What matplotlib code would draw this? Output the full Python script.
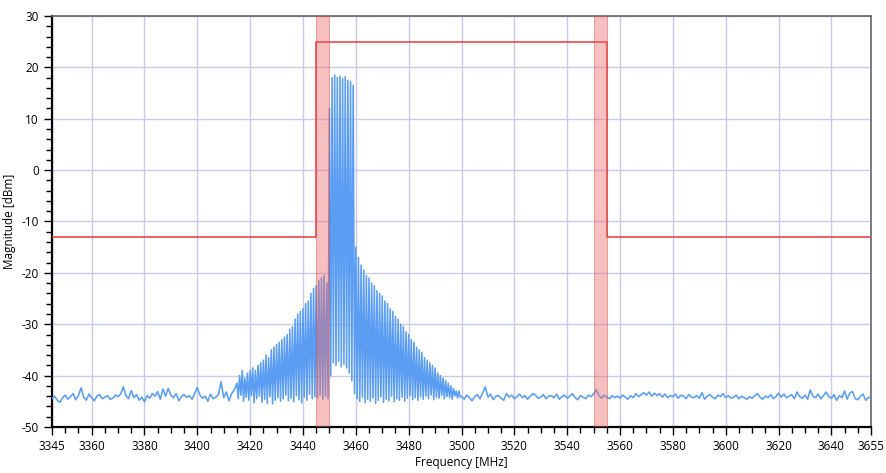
import numpy as np
import matplotlib
matplotlib.use("Agg")
import matplotlib.pyplot as plt
from matplotlib.ticker import MultipleLocator

plt.rcParams['font.family'] = ['Open Sans', 'DejaVu Sans']
plt.rcParams['axes.unicode_minus'] = False

# noise floor left of the signal, 1 MHz steps from 3345 MHz
noise_left = [
    -44.5, -44.0, -44.8, -45.2, -44.3, -43.8, -44.6, -44.1, -43.5, -44.7,
    -43.9, -42.4, -44.2, -44.8, -43.6, -44.3, -44.9, -44.0, -43.7, -44.5,
    -44.2, -43.9, -44.6, -44.4, -43.8, -44.1, -43.6, -42.2, -43.9, -44.5,
    -42.9, -44.3, -43.7, -44.8, -44.2, -45.1, -43.9, -44.4, -43.5, -44.0,
    -43.1, -44.6, -42.6, -44.0, -42.5, -43.8, -44.3, -43.5, -44.9, -44.1,
    -43.7, -44.2, -43.9, -44.6, -43.5, -42.3, -43.8, -44.4, -44.0, -45.0,
    -43.6, -44.5, -44.2, -43.7, -41.2, -44.3, -43.2, -44.9, -43.5, -42.8,
]
left_start = 3345

# comb tones (peaks at whole MHz from 3415) and the dips between them
comb_peaks = [
    -41.5, -40.0, -39.0, -40.5, -39.5, -39.0, -38.5, -39.0, -38.0, -37.5,
    -37.0, -36.0, -36.5, -35.0, -34.5, -34.0, -33.5, -33.0, -32.5, -32.0,
    -31.0, -30.5, -29.0, -28.0, -27.5, -27.0, -26.0, -25.5, -24.0, -23.0,
    -22.5, -21.5, -21.0, -20.5, -22.0, 12.0, 18.0, 18.5, 18.0, 18.3,
    17.8, 18.2, 17.5, 17.2, 16.5, -15.0, -17.0, -18.5, -19.5, -20.5,
    -21.0, -22.0, -22.5, -23.5, -24.0, -24.5, -25.5, -26.0, -27.0, -27.5,
    -28.5, -29.0, -30.0, -30.5, -31.5, -32.0, -33.0, -33.5, -34.5, -35.0,
    -35.5, -36.5, -37.0, -37.5, -38.0, -38.5, -39.5, -40.0, -40.5, -41.0,
    -41.5, -42.0, -42.5, -43.0, -43.0,
]
comb_dips = [
    -44.5, -43.8, -45.0, -44.2, -44.8, -43.9, -45.3, -44.5, -44.0, -45.2,
    -44.6, -45.4, -44.1, -45.5, -44.8, -44.3, -45.0, -44.5, -43.8, -44.9,
    -44.4, -45.1, -43.9, -44.7, -45.3, -44.2, -44.8, -43.6, -44.5, -44.1,
    -44.3, -43.8, -44.6, -44.0, -44.5, -40.0, -37.5, -38.0, -37.2, -38.3,
    -37.8, -38.5, -39.5, -41.0, -43.5, -44.5, -45.0, -44.2, -45.3, -44.6,
    -45.0, -44.3, -45.4, -44.8, -44.1, -45.2, -44.6, -44.9, -44.0, -45.1,
    -44.5, -44.8, -44.2, -45.0, -44.4, -43.9, -44.7, -44.3, -44.8, -44.1,
    -44.6, -44.0, -44.5, -43.8, -44.7, -44.2, -44.4, -43.9, -44.5, -44.1,
    -44.3, -44.6, -43.9, -44.4, -44.2,
]
comb_start = 3415

# noise floor right of the signal, 1 MHz steps from 3500 MHz
noise_right = [
    -44.0, -44.6, -43.8, -44.3, -44.9, -44.1, -43.7, -44.5, -43.4, -42.2,
    -44.2, -43.6, -44.7, -44.0, -43.9, -44.4, -44.8, -43.5, -44.2, -43.8,
    -44.5, -44.1, -43.6, -44.3, -43.9, -44.6, -44.0, -43.5, -43.8, -44.4,
    -44.2, -43.7, -44.5, -44.0, -43.9, -44.3, -43.6, -44.6, -44.1, -43.8,
    -44.4, -44.0, -43.5, -44.3, -44.7, -43.9, -44.2, -44.5, -43.8, -44.1,
    -43.6, -42.7, -43.9, -44.4, -43.8, -44.2, -44.5, -43.9, -44.3, -44.0,
    -44.4, -43.8, -44.2, -44.6, -43.9, -44.3, -43.5, -44.1, -43.7, -43.3,
    -43.8, -43.2, -44.0, -43.4, -43.9, -43.5, -44.2, -43.6, -44.3, -43.9,
    -44.1, -43.6, -44.4, -43.8, -44.0, -44.5, -43.7, -44.2, -44.3, -43.9,
    -44.4, -43.3, -44.6, -44.0, -43.7, -44.2, -44.5, -43.8, -44.1, -43.5,
    -44.3, -43.9, -44.4, -44.2, -43.8, -44.5, -44.0, -44.3, -44.6, -44.1,
    -44.4, -43.9, -43.5, -44.2, -44.6, -44.0, -44.3, -43.7, -44.5, -44.1,
    -43.4, -44.2, -43.6, -44.3, -44.0, -43.7, -44.5, -43.2, -44.1, -44.4,
    -43.8, -44.6, -42.8, -44.0, -44.3, -43.6, -44.5, -43.9, -43.2, -44.1,
    -44.4, -43.7, -44.8, -43.9, -44.3, -43.0, -44.6, -43.4, -43.1, -44.5,
    -44.7, -44.0, -43.6, -44.8, -44.3, -44.1,
]
right_start = 3500

# spectrum emission mask
mask_freq = [3345, 3445, 3445, 3555, 3555, 3655]
mask_dbm = [-13, -13, 25, 25, -13, -13]
mask_bands = [(3445, 3450), (3550, 3555)]

# assemble trace
f_left = left_start + np.arange(len(noise_left))
f_comb = np.empty(2 * len(comb_peaks))
f_comb[0::2] = comb_start + np.arange(len(comb_peaks))
f_comb[1::2] = comb_start + 0.5 + np.arange(len(comb_dips))
m_comb = np.empty(2 * len(comb_peaks))
m_comb[0::2] = comb_peaks
m_comb[1::2] = comb_dips
f_right = right_start + np.arange(len(noise_right))

freq = np.concatenate([f_left, f_comb, f_right])
mag = np.concatenate([noise_left, m_comb, noise_right])

fig = plt.figure(figsize=(8.87, 4.73), dpi=100)
ax = fig.add_axes([0.0586, 0.0973, 0.9234, 0.8689])

ax.plot(freq, mag, color='#5a9df2', lw=1.15, zorder=3)
ax.plot(mask_freq, mask_dbm, color='#e8383d', lw=1.1, zorder=4)
for lo, hi in mask_bands:
    ax.axvspan(lo, hi, facecolor='#ee6a6a', alpha=0.42, edgecolor='#d04040', lw=0.8, zorder=5)

ax.set_xlim(3345, 3655)
ax.set_ylim(-50, 30)
ax.set_xticks([3345] + list(range(3360, 3641, 20)) + [3655])
ax.xaxis.set_minor_locator(MultipleLocator(5))
ax.yaxis.set_major_locator(MultipleLocator(10))
ax.yaxis.set_minor_locator(MultipleLocator(2))

ax.grid(True, which='major', color='#cbc8f0', lw=1.0, zorder=0)
ax.set_axisbelow(True)

ax.tick_params(which='major', direction='out', length=6, width=1, labelsize=8.5, colors='black')
ax.tick_params(which='minor', direction='out', length=4, width=1)

for side in ['left', 'bottom']:
    ax.spines[side].set_linewidth(1.6)
    ax.spines[side].set_color('black')
for side in ['top', 'right']:
    ax.spines[side].set_linewidth(1.2)
    ax.spines[side].set_color('#666666')

ax.set_xlabel('Frequency [MHz]', fontsize=8.5, labelpad=2)
ax.set_ylabel('Magnitude [dBm]', fontsize=8.5, labelpad=4)

fig.savefig('out.png', dpi=100)
